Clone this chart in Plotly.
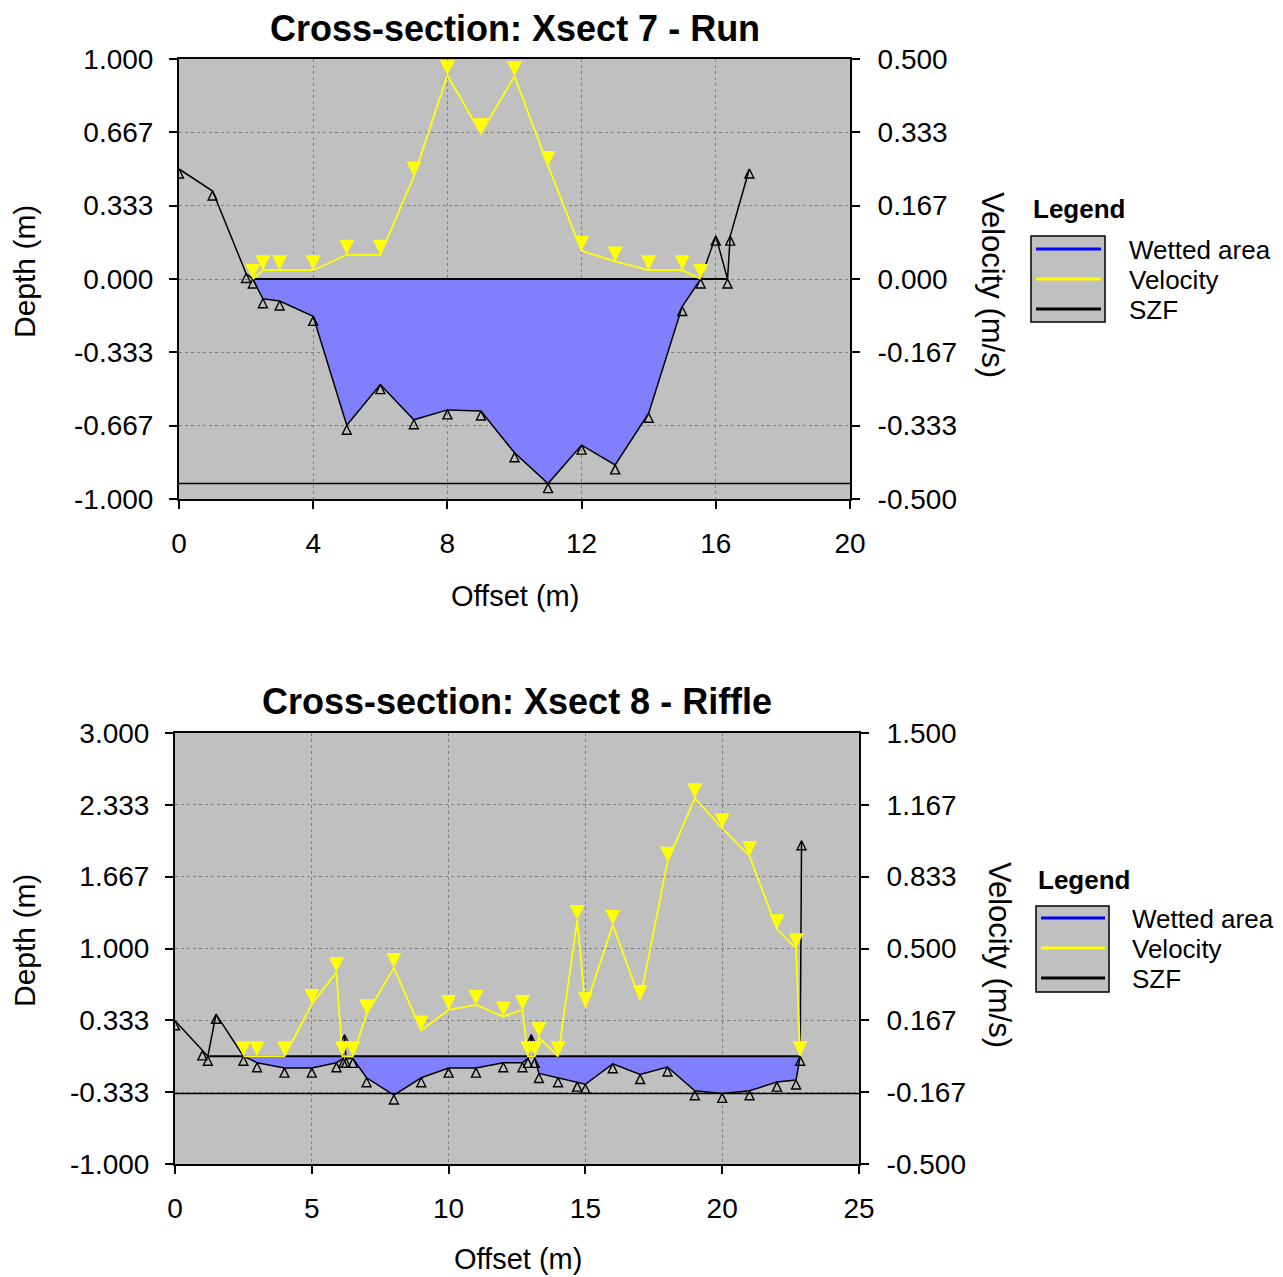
import numpy as np
import plotly.graph_objects as go

# ---------------- data: Xsect 7 - Run ----------------
top_title = "Cross-section: Xsect 7 - Run"
top_offset = [0, 1, 2, 2.2, 2.5, 3, 4, 5, 6, 7, 8, 9, 10, 11, 12, 13, 14, 15, 15.55, 16, 16.35, 16.43, 17]
top_depth = [0.50, 0.40, 0.025, 0.0, -0.09, -0.10, -0.17, -0.665, -0.48, -0.64, -0.595, -0.60, -0.79,
             -0.93, -0.755, -0.845, -0.61, -0.125, 0.0, 0.195, 0.0, 0.195, 0.50]
top_vel_offset = [2.2, 2.5, 3, 4, 5, 6, 7, 8, 9, 10, 11, 12, 13, 14, 15, 15.55]
top_velocity = [0.0, 0.02, 0.02, 0.02, 0.055, 0.055, 0.233, 0.463, 0.331, 0.461, 0.257, 0.064, 0.04, 0.02, 0.02, 0.0]
top_water_level = 0.0
top_szf = -0.93
top_x_ticks = [0, 4, 8, 12, 16, 20]
top_depth_ticklabels = ["-1.000", "-0.667", "-0.333", "0.000", "0.333", "0.667", "1.000"]
top_vel_ticklabels = ["-0.500", "-0.333", "-0.167", "0.000", "0.167", "0.333", "0.500"]

# ---------------- data: Xsect 8 - Riffle ----------------
bot_title = "Cross-section: Xsect 8 - Riffle"
bot_offset = [0, 1.0, 1.2, 1.5, 2.5, 3, 4, 5, 5.9, 6.15, 6.2, 6.25, 6.5, 7, 8, 9, 10, 11, 12, 12.7, 12.9,
              13.02, 13.15, 13.3, 14, 14.7, 15, 16, 17, 18, 19, 20, 21, 22, 22.7, 22.85, 22.9]
bot_depth = [0.33, 0.05, 0.0, 0.39, 0.0, -0.06, -0.11, -0.11, -0.06, -0.02, 0.20, -0.02, -0.02, -0.20,
             -0.36, -0.20, -0.11, -0.11, -0.06, -0.06, -0.02, 0.20, -0.02, -0.16, -0.20, -0.24, -0.26,
             -0.07, -0.17, -0.10, -0.32, -0.345, -0.32, -0.24, -0.22, 0.0, 2.0]
bot_vel_offset = [2.5, 3, 4, 5, 5.9, 6.12, 6.5, 7, 8, 9, 10, 11, 12, 12.7, 12.9, 13.15, 13.3, 14, 14.7, 15,
                  16, 17, 18, 19, 20, 21, 22, 22.7, 22.85]
bot_velocity = [0.0, 0.0, 0.0, 0.242, 0.39, 0.0, 0.0, 0.195, 0.41, 0.12, 0.215, 0.238, 0.184, 0.215, 0.0,
                0.0, 0.088, 0.0, 0.632, 0.227, 0.609, 0.261, 0.903, 1.197, 1.058, 0.929, 0.589, 0.501, 0.0]
bot_water_level = 0.0
bot_szf = -0.345
bot_x_ticks = [0, 5, 10, 15, 20, 25]
bot_depth_ticklabels = ["-1.000", "-0.333", "0.333", "1.000", "1.667", "2.333", "3.000"]
bot_vel_ticklabels = ["-0.500", "-0.167", "0.167", "0.500", "0.833", "1.167", "1.500"]

legend_labels = ["Wetted area", "Velocity", "SZF"]
legend_colors = ["#0000FF", "#FFFF00", "#000000"]

# ---------------- styling ----------------
PAGE_PAD = 8  # default body margin of the html page
W, H = 1283 - PAGE_PAD, 1277 - PAGE_PAD
FONT = "Liberation Sans, Arial, sans-serif"
BG = "#C0C0C0"
FILL = "#8080FF"

fig = go.Figure()


def px(x):
    return (x - PAGE_PAD) / W


def py(y):
    return 1 - (y - PAGE_PAD) / H


def add_panel(n, offset, depth, voff, vel, level, szf, xt, dlab, vlab, box):
    xa = "x" if n == 1 else "x2"
    ya_l = "y" if n == 1 else "y3"
    ya_r = "y2" if n == 1 else "y4"
    off = np.array(offset, float)
    dep = np.array(depth, float)
    wet = np.where(dep <= level)[0]
    lo, hi = wet[0], wet[-1]
    sx = off[lo:hi + 1]
    sy = np.minimum(dep[lo:hi + 1], level)
    # wetted area
    fig.add_trace(go.Scatter(x=sx, y=np.full(len(sx), level), mode="lines", line=dict(width=0),
                             hoverinfo="skip", showlegend=False, xaxis=xa, yaxis=ya_l))
    fig.add_trace(go.Scatter(x=sx, y=sy, mode="lines", line=dict(width=0), fill="tonexty",
                             fillcolor=FILL, hoverinfo="skip", showlegend=False, xaxis=xa, yaxis=ya_l))
    # SZF
    fig.add_trace(go.Scatter(x=[xt[0], xt[-1]], y=[szf, szf], mode="lines",
                             line=dict(color="black", width=1.5), showlegend=False, xaxis=xa, yaxis=ya_l))
    # water surface
    fig.add_trace(go.Scatter(x=[off[lo], off[hi]], y=[level, level], mode="lines",
                             line=dict(color="black", width=2), showlegend=False, xaxis=xa, yaxis=ya_l))
    # ground profile
    fig.add_trace(go.Scatter(x=off, y=dep, mode="lines+markers", line=dict(color="black", width=1.5),
                             marker=dict(symbol="arrow-up-open", size=9, color="black",
                                         line=dict(color="black", width=1.4)),
                             showlegend=False, xaxis=xa, yaxis=ya_l))
    # velocity
    fig.add_trace(go.Scatter(x=voff, y=vel, mode="lines+markers", line=dict(color="#FFFF00", width=1.8),
                             marker=dict(symbol="arrow-down", size=15, color="#FFFF00", line=dict(width=0)),
                             showlegend=False, xaxis=xa, yaxis=ya_r))
    x0, x1, y0, y1 = box
    dr = [-1, 1] if n == 1 else [-1, 3]
    vr = [-0.5, 0.5] if n == 1 else [-0.5, 1.5]
    axis_common = dict(showline=True, linecolor="black", linewidth=2, ticks="outside", ticklen=8,
                       tickwidth=2, tickcolor="black", zeroline=False, automargin=False,
                       tickfont=dict(family=FONT, size=28, color="black"))
    xkey = "xaxis" if n == 1 else "xaxis2"
    ylkey = "yaxis" if n == 1 else "yaxis3"
    yrkey = "yaxis2" if n == 1 else "yaxis4"
    fig.update_layout(**{
        xkey: dict(domain=[px(x0), px(x1)], range=[xt[0], xt[-1]], tickvals=xt, anchor=ya_l,
                   mirror=True, showgrid=True, gridcolor="#808080", griddash="dot", gridwidth=1,
                   ticklabelstandoff=10, **axis_common),
        ylkey: dict(domain=[py(y1), py(y0)], range=dr, anchor=xa,
                    tickvals=list(np.linspace(dr[0], dr[1], 7)), ticktext=dlab,
                    showgrid=True, gridcolor="#808080", griddash="dot", gridwidth=1,
                    ticklabelstandoff=10, **axis_common),
        yrkey: dict(range=vr, overlaying=ya_l, side="right", anchor=xa,
                    tickvals=list(np.linspace(vr[0], vr[1], 7)), ticktext=vlab,
                    showgrid=False, ticklabelstandoff=12, **axis_common),
    })


add_panel(1, top_offset, top_depth, top_vel_offset, top_velocity, top_water_level, top_szf,
          top_x_ticks, top_depth_ticklabels, top_vel_ticklabels, (179, 850, 59, 499))
add_panel(2, bot_offset, bot_depth, bot_vel_offset, bot_velocity, bot_water_level, bot_szf,
          bot_x_ticks, bot_depth_ticklabels, bot_vel_ticklabels, (175, 859, 733, 1164))

ann = []
shapes = []


def text(x, y, s, size=29, bold=False, angle=0, xanchor="center", yanchor="middle"):
    ann.append(dict(x=px(x), y=py(y), xref="paper", yref="paper", text=("<b>%s</b>" % s) if bold else s,
                    showarrow=False, textangle=angle, xanchor=xanchor, yanchor=yanchor,
                    font=dict(family=FONT, size=size, color="black")))


# titles and axis titles
text(515, 6, top_title, size=36, bold=True, yanchor="top")
text(517, 679, bot_title, size=36, bold=True, yanchor="top")
text(25, 272, "Depth (m)", size=30, angle=-90)
text(25, 941, "Depth (m)", size=30, angle=-90)
text(515, 596, "Offset (m)")
text(518, 1259, "Offset (m)")
text(993, 285, "Velocity (m/s)", size=31, angle=90)
text(1000, 955, "Velocity (m/s)", size=31, angle=90)

# legends
for (lx, ly_title, bx0, bx1, by0, by1, lines_y, tx) in [
        (1031, 209, 1031, 1105, 236, 322, [249, 279, 309], 1127),
        (1036, 880, 1036, 1109, 906, 992, [918, 948, 978], 1130)]:
    text(lx, ly_title, "Legend", size=26, bold=True, xanchor="left")
    shapes.append(dict(type="rect", xref="paper", yref="paper", x0=px(bx0), x1=px(bx1), y0=py(by1), y1=py(by0),
                       fillcolor=BG, line=dict(color="black", width=1.5), layer="below"))
    for lab, col, yy in zip(legend_labels, legend_colors, lines_y):
        shapes.append(dict(type="line", xref="paper", yref="paper", x0=px(bx0 + 5), x1=px(bx1 - 4),
                           y0=py(yy), y1=py(yy), line=dict(color=col, width=3)))
        text(tx, yy + 1, lab, size=26, xanchor="left")

fig.update_layout(width=W, height=H, margin=dict(l=0, r=0, t=0, b=0, autoexpand=False), autosize=False,
                  paper_bgcolor="white", plot_bgcolor=BG, showlegend=False,
                  annotations=ann, shapes=shapes, font=dict(family=FONT))

fig.write_html("out.html")
